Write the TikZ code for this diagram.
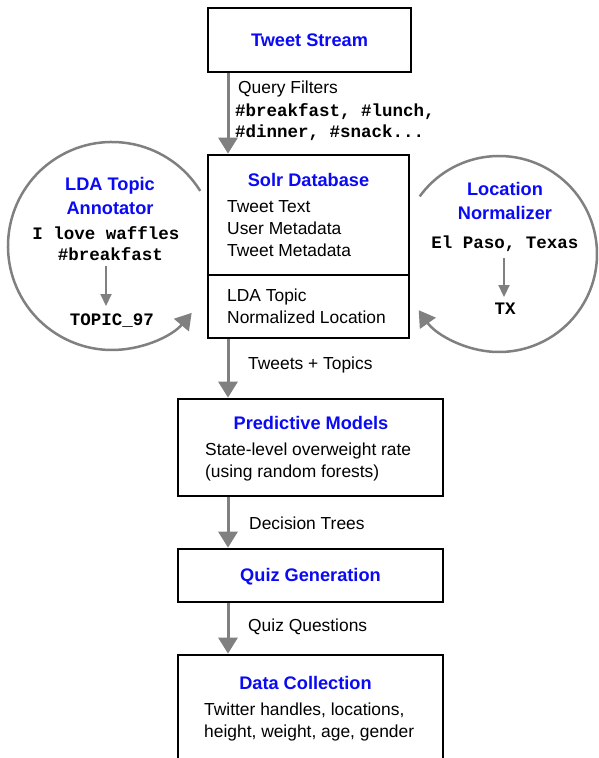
\documentclass[tikz,border=0pt]{standalone}
\usepackage{fontspec}
\setmainfont{Liberation Sans}
\setmonofont{Liberation Mono}
\usetikzlibrary{arrows.meta}
\definecolor{titleblue}{RGB}{10,10,245}
\definecolor{arrgray}{RGB}{128,128,128}
\tikzset{
 boxn/.style={draw=black, line width=2.7pt, inner sep=0pt, rectangle},
 ttl/.style={font=\fontsize{18.2}{25}\selectfont\bfseries, text=titleblue, inner sep=0pt, align=center},
 txt/.style={font=\fontsize{17.4}{22}\selectfont, inner sep=0pt, align=left},
 mono/.style={font=\fontsize{17.5}{21.5}\selectfont\ttfamily\bfseries, inner sep=0pt},
 bigarr/.style={draw=arrgray, line width=3pt, -{Triangle[width=19pt,length=16pt]}},
 smallarr/.style={draw=arrgray, line width=2pt, -{Triangle[width=11pt,length=12pt]}},
 circarr/.style={draw=arrgray, line width=2.5pt, -{Triangle[width=19pt,length=16pt]}},
}
\begin{document}
\begin{tikzpicture}[x=1pt,y=1pt]
\useasboundingbox (0,0) rectangle (598,758);
\clip (0,0) rectangle (598,758);
\fill[white] (0,0) rectangle (598,758);
\coordinate (ax) at (228,0);

% Tweet Stream
\node[boxn, minimum width=203pt, minimum height=64pt] (ts) at (309.5,718) {};
\node[ttl] (tstitle) at (309.5,718) {Tweet Stream};

% Solr database
\node[boxn, minimum width=201pt, minimum height=183pt] (solr) at (308.5,511.5) {};
\coordinate (div) at (0,483);
\draw[black, line width=2.7pt] (solr.west |- div) -- (solr.east |- div);
\node[ttl] (solrtitle) at (308.5,578) {Solr Database};
\node[txt, anchor=west] (solrtxt1) at (227,529) {Tweet Text\\User Metadata\\Tweet Metadata};
\node[txt, anchor=west] (solrtxt2) at (227,452) {LDA Topic\\Normalized Location};

\draw[bigarr] (ts.south -| ax) -- (solr.north -| ax);
\node[txt, anchor=west] (qf) at (238,669) {Query Filters};
\node[mono, anchor=west, align=left] (tags) at (235,636) {\#breakfast, \#lunch,\\\#dinner, \#snack...};

% Left circle
\coordinate (lc) at (112,512);
\draw[circarr] (lc) ++(32:104) arc[start angle=32, end angle=320, radius=104];
\node[ttl] (lda) at (110,562) {LDA Topic\\Annotator};
\node[mono] (lov1) at (106,525) {I love waffles};
\node[mono] (lov2) at (110.5,504) {\#breakfast};
\node[mono] (topic) at (112,437) {TOPIC\_97};
\coordinate (lx) at (106,0);
\draw[smallarr] ([yshift=-5pt]lov2.south -| lx) -- ([yshift=8pt]topic.north -| lx);

% Right circle
\coordinate (rc) at (499,504);
\draw[circarr] (rc) ++(144:98) arc[start angle=144, end angle=-145, radius=98];
\node[ttl] (locn) at (505,557) {Location\\Normalizer};
\node[mono] (elp) at (505,514) {El Paso, Texas};
\node[mono] (tx) at (505,449) {TX};
\coordinate (rx) at (504,0);
\draw[smallarr] ([yshift=-6pt]elp.south -| rx) -- ([yshift=6pt]tx.north -| rx);

% Predictive Models
\node[boxn, minimum width=265pt, minimum height=97pt] (pm) at (310.5,310.5) {};
\node[ttl] (pmtitle) at (311,335) {Predictive Models};
\node[txt, anchor=west] (pmtxt) at (205,296) {State-level overweight rate\\(using random forests)};
\draw[bigarr] (solr.south -| ax) -- (pm.north -| ax);
\node[txt, anchor=west] (tt) at (248,393) {Tweets + Topics};

% Quiz Generation
\node[boxn, minimum width=265pt, minimum height=53pt] (qg) at (310.5,182.5) {};
\node[ttl] (qgtitle) at (310.5,181) {Quiz Generation};
\draw[bigarr] (pm.south -| ax) -- (qg.north -| ax);
\node[txt, anchor=west] (dt) at (249,235) {Decision Trees};

% Data Collection
\node[boxn, minimum width=265pt, minimum height=120pt] (dc) at (310.5,43) {};
\node[ttl] (dctitle) at (305.5,75) {Data Collection};
\node[txt, anchor=west] (dctxt) at (204,36) {Twitter handles, locations,\\height, weight, age, gender};
\draw[bigarr] (qg.south -| ax) -- (dc.north -| ax);
\node[txt, anchor=west] (qq) at (248,131) {Quiz Questions};
\end{tikzpicture}
\end{document}
